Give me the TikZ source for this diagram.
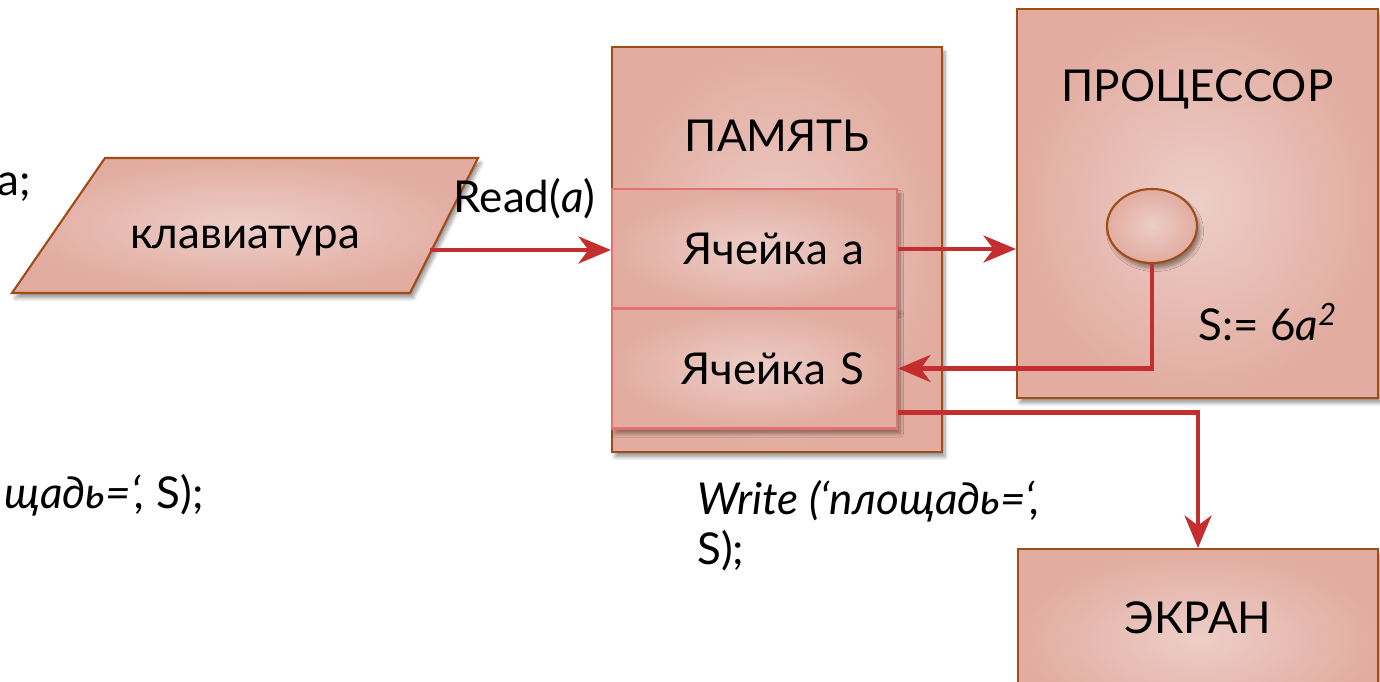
\documentclass[tikz,border=0pt]{standalone}
\usepackage{fontspec}
\setmainfont{Lato}
\usepackage{tikz}
\usetikzlibrary{shapes.geometric,          % ellipse
           arrows.meta,                    % pointes de fleches
           calc,
           shadows.blur,                   % ombres
           shadings}
\definecolor{rosec}{RGB}{237,206,200}
\definecolor{rosef}{RGB}{226,172,160}
\definecolor{brun}{RGB}{160,76,22}
\definecolor{rougef}{RGB}{196,46,46}
\definecolor{rougec}{RGB}{228,112,112}

\begin{document}
\begin{tikzpicture}[
  every node/.style={font=\fontsize{25}{28.5}\selectfont},
  ombre/.style={blur shadow={shadow xshift=0.6mm,shadow yshift=-1mm,shadow blur steps=6}},
  bloc/.style={draw=brun,line width=1.2pt,inner color=rosec,outer color=rosef,ombre},
  cellule/.style={rectangle,draw=rougec,line width=1.2pt,inner color=rosec,outer color=rosef,ombre,
    minimum width=5.7cm,minimum height=2.4cm,text width=4.4cm,align=right,inner xsep=0.65cm},
  trait/.style={draw=rougef,line width=2.4pt},
  fleche/.style={trait,-{Stealth[length=6.5mm,width=5.4mm,inset=2mm]}}]
\useasboundingbox (0,0) rectangle (27.6,13.62);
\clip (0,0) rectangle (27.6,13.62);
% textes coupes a gauche
\node[anchor=base east] (restea) at (0.74,9.7) {a;};
\node[anchor=base east] (resteb) at (4.2,3.46) {\textit{щадь=‘,} S);};
% clavier
\path[bloc] (0.24,7.76) -- (8.2,7.76) -- (9.56,10.46) -- (2.1,10.46) -- cycle;
\node (clav) at (4.9,8.8) {клавиатура};
\coordinate (clavsortie) at (8.6,8.62);
\node[anchor=west] (lecture) at (8.95,9.64) {Read(\textit{a})};
% memoire
\node[bloc,minimum width=6.6cm,minimum height=8.1cm] (mem) at (15.54,8.63) {};
\node (memtitre) at ([yshift=-1.8cm]mem.north) {ПАМЯТЬ};
\node[cellule] (cella) at (15.09,8.64) {Ячейка a};
\node[cellule] (cells) at (15.09,6.25) {Ячейка S};
% processeur
\node[bloc,minimum width=7.22cm,minimum height=7.78cm] (proc) at (23.95,9.55) {};
\node (proctitre) at ([yshift=-1.62cm]proc.north) {ПРОЦЕССОР};
\node[bloc,ellipse,minimum width=1.8cm,minimum height=1.48cm,inner sep=0pt] (alu) at (23.04,9.1) {};
\node (formule) at (25.36,7.18) {S:= 6\textit{a}\textsuperscript{\textit{2}}};
% ecran
\node[bloc,minimum width=7.2cm,minimum height=3.6cm,anchor=north] (ecran) at (23.96,2.66) {};
\node (ecrantitre) at ([yshift=-1.4cm]ecran.north) {ЭКРАН};
\node[anchor=north west,align=left,inner sep=0pt] (ecriture) at (13.94,4.02) {\textit{Write (‘площадь=‘,}\\S);};
% liaisons
\draw[fleche] (clavsortie) -- (clavsortie -| cella.west);
\draw[fleche] (cella.east) -- (cella.east -| proc.west);
\draw[fleche] (alu.south) |- (cells.east);
\draw[fleche] ([yshift=0.34cm]cells.south east) -| (ecran.north);
\end{tikzpicture}
\end{document}
